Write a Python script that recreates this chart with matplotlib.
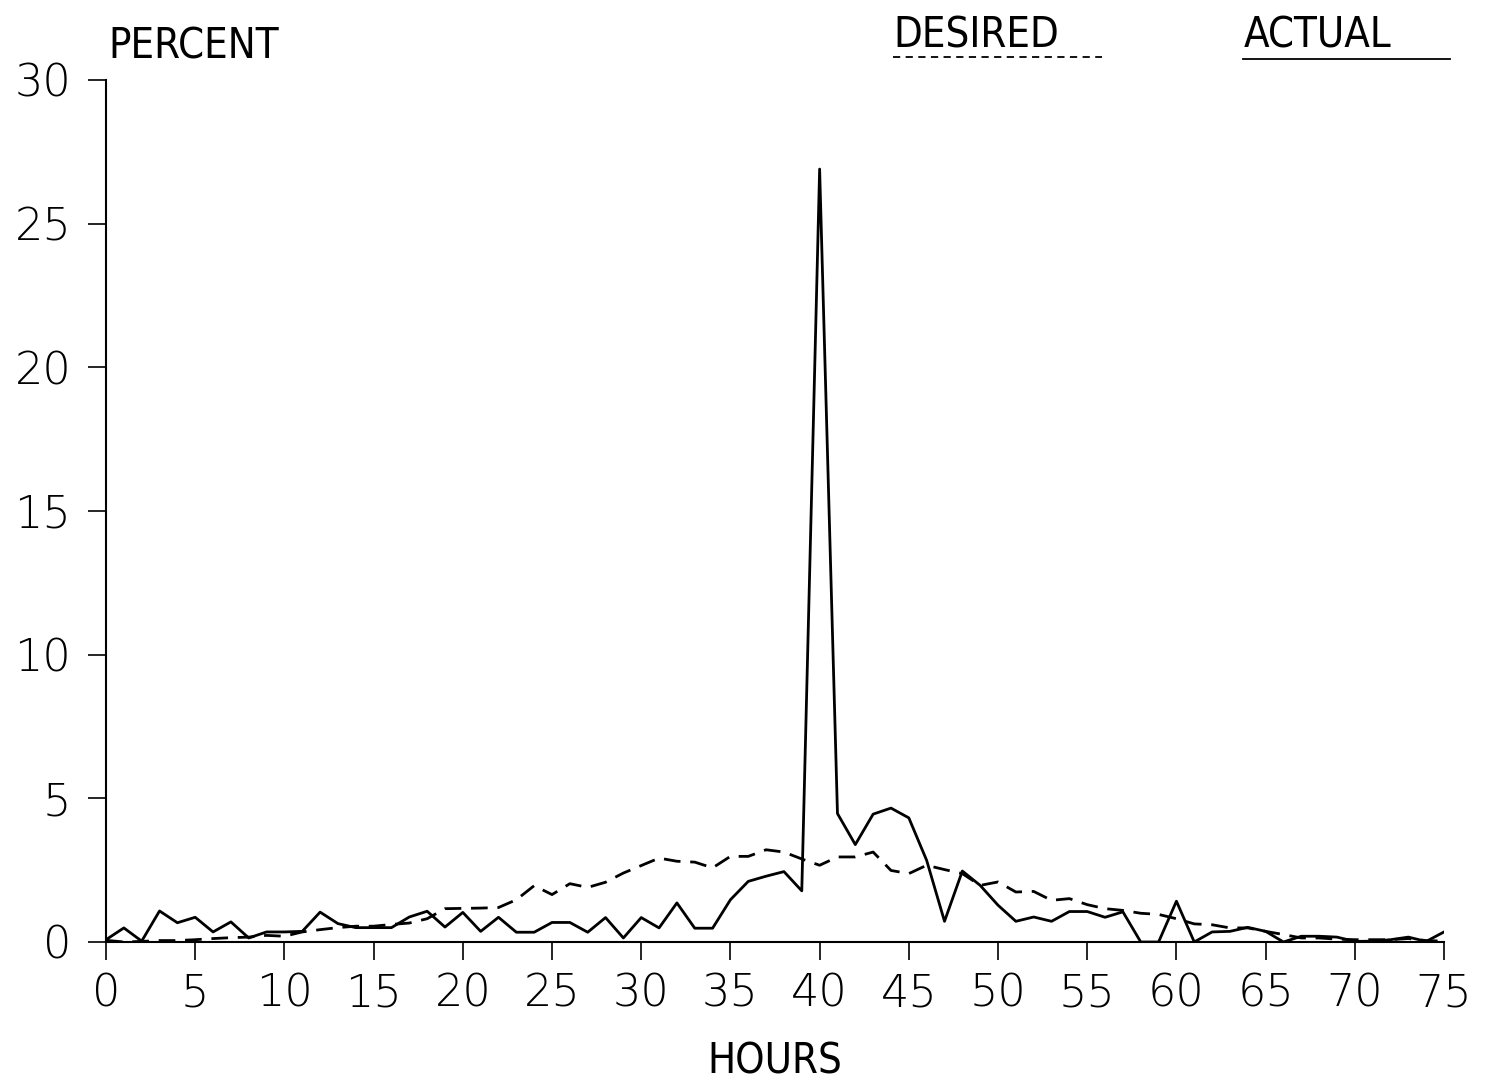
import numpy as np
import matplotlib
matplotlib.use("Agg")
import matplotlib.pyplot as plt
from matplotlib.lines import Line2D

hours = np.arange(0, 76)

actual = [0.08, 0.49, 0.03, 1.08, 0.67, 0.86, 0.35, 0.70, 0.14, 0.35,
          0.35, 0.37, 1.04, 0.64, 0.50, 0.50, 0.50, 0.87, 1.07, 0.52,
          1.03, 0.37, 0.86, 0.34, 0.34, 0.68, 0.68, 0.34, 0.85, 0.14,
          0.85, 0.49, 1.36, 0.48, 0.48, 1.47, 2.11, 2.29, 2.45, 1.78,
          26.9, 4.47, 3.39, 4.45, 4.66, 4.32, 2.84, 0.72, 2.47, 1.97,
          1.28, 0.72, 0.87, 0.72, 1.06, 1.06, 0.86, 1.05, 0.0, 0.0,
          1.42, 0.0, 0.35, 0.37, 0.51, 0.37, 0.0, 0.20, 0.20, 0.17,
          0.02, 0.03, 0.08, 0.17, 0.02, 0.35]

desired = [0.06, 0.0, 0.02, 0.05, 0.05, 0.08, 0.12, 0.15, 0.17, 0.23,
           0.20, 0.35, 0.43, 0.50, 0.55, 0.55, 0.61, 0.66, 0.81, 1.16,
           1.17, 1.18, 1.20, 1.47, 1.96, 1.65, 2.03, 1.90, 2.08, 2.40,
           2.66, 2.92, 2.81, 2.78, 2.58, 2.98, 2.98, 3.21, 3.13, 2.89,
           2.67, 2.96, 2.96, 3.13, 2.49, 2.38, 2.67, 2.52, 2.38, 1.97,
           2.09, 1.74, 1.76, 1.45, 1.51, 1.30, 1.16, 1.10, 1.00, 0.96,
           0.81, 0.63, 0.60, 0.49, 0.49, 0.37, 0.26, 0.14, 0.14, 0.10,
           0.08, 0.08, 0.08, 0.12, 0.05, 0.03]

xticks = np.arange(0, 80, 5)
yticks = np.arange(0, 35, 5)

plt.rcParams['font.family'] = ['DejaVu Sans']

fig = plt.figure(figsize=(14.89, 10.84), dpi=100)
ax = fig.add_axes([0.0712, 0.131, 0.8986, 0.7952])

ax.plot(hours, actual, color='black', lw=2.0)
ax.plot(hours, desired, color='black', lw=2.0, dashes=(6, 3.5))

ax.set_xlim(0, 75)
ax.set_ylim(0, 30)
ax.set_xticks(xticks)
ax.set_yticks(yticks)
ax.tick_params(axis='both', direction='out', length=13, width=1.2,
               labelsize=32, colors='black')
ax.tick_params(axis='x', pad=9)
ax.tick_params(axis='y', pad=12)
for lab in ax.get_xticklabels() + ax.get_yticklabels():
    lab.set_fontweight('light')

ax.spines['top'].set_visible(False)
ax.spines['right'].set_visible(False)
ax.spines['left'].set_linewidth(1.5)
ax.spines['bottom'].set_linewidth(1.5)

lab_font = dict(fontsize=30, fontstretch='condensed', family='DejaVu Sans')

ax.set_xlabel("HOURS", labelpad=18, **lab_font)

fig.text(0.0725, 0.938, "PERCENT", ha='left', va='bottom', **lab_font)
fig.text(0.6, 0.948, "DESIRED", ha='left', va='bottom', **lab_font)
fig.text(0.835, 0.948, "ACTUAL", ha='left', va='bottom', **lab_font)

fig.add_artist(Line2D([0.6, 0.74], [0.947, 0.947], color='black', lw=1.3,
                      dashes=(4, 3), transform=fig.transFigure))
fig.add_artist(Line2D([0.835, 0.974], [0.946, 0.946], color='black', lw=1.3,
                      transform=fig.transFigure))

fig.savefig("out.png", dpi=100)
